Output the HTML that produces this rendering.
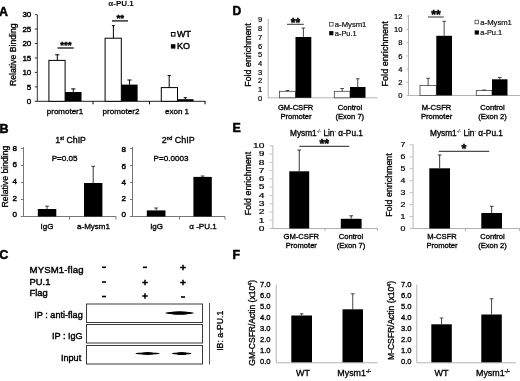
<!DOCTYPE html>
<html><head><meta charset="utf-8"><title>Figure</title>
<style>
html,body{margin:0;padding:0;background:#fff;}
svg{display:block;font-family:"Liberation Sans",Arial,sans-serif;filter:blur(0.4px);}
</style></head><body>
<svg width="520" height="381" viewBox="0 0 520 381">
<rect x="0" y="0" width="520" height="381" fill="#fff"/>
<text x="-0.9" y="15.8" font-size="12.4" text-anchor="start" font-weight="bold" fill="#000" stroke="#000" stroke-width="0.5">A</text>
<text x="121" y="6.3" font-size="8" text-anchor="middle" font-weight="bold" fill="#000" >α-PU.1</text>
<line x1="37.3" y1="15" x2="37.3" y2="101.8" stroke="#333" stroke-width="1"/>
<line x1="37.3" y1="101.3" x2="205.5" y2="101.3" stroke="#222" stroke-width="1"/>
<line x1="34.8" y1="101.3" x2="37.3" y2="101.3" stroke="#333" stroke-width="1"/>
<text x="31.3" y="104.14999999999999" font-size="8" text-anchor="end" font-weight="normal" fill="#000" stroke="#000" stroke-width="0.42">0</text>
<line x1="34.8" y1="86.85" x2="37.3" y2="86.85" stroke="#333" stroke-width="1"/>
<text x="31.3" y="89.69999999999999" font-size="8" text-anchor="end" font-weight="normal" fill="#000" stroke="#000" stroke-width="0.42">5</text>
<line x1="34.8" y1="72.4" x2="37.3" y2="72.4" stroke="#333" stroke-width="1"/>
<text x="31.3" y="75.25" font-size="8" text-anchor="end" font-weight="normal" fill="#000" stroke="#000" stroke-width="0.42">10</text>
<line x1="34.8" y1="57.95" x2="37.3" y2="57.95" stroke="#333" stroke-width="1"/>
<text x="31.3" y="60.800000000000004" font-size="8" text-anchor="end" font-weight="normal" fill="#000" stroke="#000" stroke-width="0.42">15</text>
<line x1="34.8" y1="43.5" x2="37.3" y2="43.5" stroke="#333" stroke-width="1"/>
<text x="31.3" y="46.35" font-size="8" text-anchor="end" font-weight="normal" fill="#000" stroke="#000" stroke-width="0.42">20</text>
<line x1="34.8" y1="29.049999999999997" x2="37.3" y2="29.049999999999997" stroke="#333" stroke-width="1"/>
<text x="31.3" y="31.9" font-size="8" text-anchor="end" font-weight="normal" fill="#000" stroke="#000" stroke-width="0.42">25</text>
<line x1="34.8" y1="14.600000000000009" x2="37.3" y2="14.600000000000009" stroke="#333" stroke-width="1"/>
<text x="31.3" y="17.45000000000001" font-size="8" text-anchor="end" font-weight="normal" fill="#000" stroke="#000" stroke-width="0.42">30</text>
<line x1="93" y1="101.3" x2="93" y2="104.3" stroke="#000" stroke-width="1"/>
<line x1="149.5" y1="101.3" x2="149.5" y2="104.3" stroke="#000" stroke-width="1"/>
<line x1="205" y1="101.3" x2="205" y2="104.3" stroke="#000" stroke-width="1"/>
<text transform="translate(15.7,54.7) rotate(-90)" font-size="8.7" text-anchor="middle" fill="#000" stroke="#000" stroke-width="0.32">Relative Binding</text>
<rect x="48.9" y="60.4" width="16.2" height="40.9" fill="#fff" stroke="#000" stroke-width="1"/>
<line x1="57.3" y1="54.8" x2="57.3" y2="60.4" stroke="#000" stroke-width="1"/>
<line x1="55.199999999999996" y1="54.8" x2="59.4" y2="54.8" stroke="#000" stroke-width="1"/>
<rect x="65.1" y="92" width="16.4" height="9.3" fill="#000" stroke="none" stroke-width="0"/>
<line x1="73.3" y1="88.9" x2="73.3" y2="92" stroke="#000" stroke-width="1"/>
<line x1="71.2" y1="88.9" x2="75.39999999999999" y2="88.9" stroke="#000" stroke-width="1"/>
<rect x="105.1" y="38.2" width="16.2" height="63.1" fill="#fff" stroke="#000" stroke-width="1"/>
<line x1="113.4" y1="25.7" x2="113.4" y2="38.2" stroke="#000" stroke-width="1"/>
<line x1="111.9" y1="25.7" x2="114.9" y2="25.7" stroke="#000" stroke-width="1"/>
<rect x="121.3" y="84.6" width="16.3" height="16.7" fill="#000" stroke="none" stroke-width="0"/>
<line x1="129.5" y1="80" x2="129.5" y2="84.6" stroke="#000" stroke-width="1"/>
<line x1="127.4" y1="80" x2="131.6" y2="80" stroke="#000" stroke-width="1"/>
<rect x="161.3" y="87.6" width="16.2" height="13.7" fill="#fff" stroke="#000" stroke-width="1"/>
<line x1="169.2" y1="75.5" x2="169.2" y2="87.6" stroke="#000" stroke-width="1"/>
<line x1="167.6" y1="75.5" x2="170.79999999999998" y2="75.5" stroke="#000" stroke-width="1"/>
<rect x="177.5" y="99.2" width="16.0" height="2.1" fill="#000" stroke="none" stroke-width="0"/>
<line x1="185.3" y1="97.7" x2="185.3" y2="99.2" stroke="#000" stroke-width="1"/>
<line x1="183.70000000000002" y1="97.7" x2="186.9" y2="97.7" stroke="#000" stroke-width="1"/>
<line x1="57.5" y1="48" x2="73.7" y2="48" stroke="#000" stroke-width="1.2"/>
<text x="65.9" y="48.0" font-size="9.8" text-anchor="middle" font-weight="bold" fill="#000" stroke="#000" stroke-width="0.45">***</text>
<line x1="112" y1="20.9" x2="128" y2="20.9" stroke="#000" stroke-width="1.2"/>
<text x="120.2" y="20.5" font-size="9.8" text-anchor="middle" font-weight="bold" fill="#000" stroke="#000" stroke-width="0.45">**</text>
<text x="65" y="114" font-size="8" text-anchor="middle" font-weight="normal" fill="#000" stroke="#000" stroke-width="0.32">promoter1</text>
<text x="121" y="114" font-size="8.1" text-anchor="middle" font-weight="normal" fill="#000" stroke="#000" stroke-width="0.32">promoter2</text>
<text x="177" y="114" font-size="8" text-anchor="middle" font-weight="normal" fill="#000" stroke="#000" stroke-width="0.32">exon 1</text>
<rect x="171.4" y="32.5" width="3.6" height="3.6" fill="#fff" stroke="#000" stroke-width="1"/>
<text x="177" y="36.5" font-size="9" text-anchor="start" font-weight="normal" fill="#000" stroke="#000" stroke-width="0.42">WT</text>
<rect x="170.9" y="44.2" width="4.5" height="4.4" fill="#000" stroke="none" stroke-width="0"/>
<text x="177" y="49" font-size="9" text-anchor="start" font-weight="normal" fill="#000" stroke="#000" stroke-width="0.42">KO</text>
<text x="-0.6" y="132.8" font-size="12.5" text-anchor="start" font-weight="bold" fill="#000" stroke="#000" stroke-width="0.5">B</text>
<text x="70.6" y="142.5" font-size="8.8" text-anchor="middle" stroke="#000" stroke-width="0.32">1<tspan dy="-3" font-size="5">st</tspan><tspan dy="3"> ChIP</tspan></text>
<text x="178.2" y="142.5" font-size="9" text-anchor="middle" stroke="#000" stroke-width="0.32">2<tspan dy="-3" font-size="5">nd</tspan><tspan dy="3"> ChIP</tspan></text>
<line x1="23.5" y1="147" x2="23.5" y2="217.0" stroke="#777" stroke-width="1"/>
<line x1="23.5" y1="216.5" x2="116" y2="216.5" stroke="#777" stroke-width="1"/>
<line x1="21.0" y1="216.5" x2="23.5" y2="216.5" stroke="#777" stroke-width="1"/>
<text x="16.9" y="217.3" font-size="8.1" text-anchor="end" font-weight="normal" fill="#000" stroke="#000" stroke-width="0.42">0</text>
<line x1="21.0" y1="199.5" x2="23.5" y2="199.5" stroke="#777" stroke-width="1"/>
<text x="16.9" y="200.65" font-size="8.1" text-anchor="end" font-weight="normal" fill="#000" stroke="#000" stroke-width="0.42">2</text>
<line x1="21.0" y1="182.5" x2="23.5" y2="182.5" stroke="#777" stroke-width="1"/>
<text x="16.9" y="184.0" font-size="8.1" text-anchor="end" font-weight="normal" fill="#000" stroke="#000" stroke-width="0.42">4</text>
<line x1="21.0" y1="165.5" x2="23.5" y2="165.5" stroke="#777" stroke-width="1"/>
<text x="16.9" y="167.35000000000002" font-size="8.1" text-anchor="end" font-weight="normal" fill="#000" stroke="#000" stroke-width="0.42">6</text>
<line x1="21.0" y1="148.5" x2="23.5" y2="148.5" stroke="#777" stroke-width="1"/>
<text x="16.9" y="150.70000000000002" font-size="8.1" text-anchor="end" font-weight="normal" fill="#000" stroke="#000" stroke-width="0.42">8</text>
<line x1="69.5" y1="216.5" x2="69.5" y2="219.5" stroke="#777" stroke-width="1"/>
<line x1="116" y1="216.5" x2="116" y2="219.5" stroke="#777" stroke-width="1"/>
<rect x="37.8" y="209" width="18.5" height="7.5" fill="#000" stroke="none" stroke-width="0"/>
<line x1="47.05" y1="206.2" x2="47.05" y2="209" stroke="#222" stroke-width="0.9"/>
<line x1="45.25" y1="206.2" x2="48.849999999999994" y2="206.2" stroke="#222" stroke-width="0.9"/>
<rect x="84" y="183" width="18.4" height="33.5" fill="#000" stroke="none" stroke-width="0"/>
<line x1="93.2" y1="166.3" x2="93.2" y2="183" stroke="#222" stroke-width="0.9"/>
<line x1="91.4" y1="166.3" x2="95.0" y2="166.3" stroke="#222" stroke-width="0.9"/>
<text x="47" y="229" font-size="8" text-anchor="middle" font-weight="normal" fill="#000" stroke="#000" stroke-width="0.32">IgG</text>
<text x="93.5" y="229" font-size="8" text-anchor="middle" font-weight="normal" fill="#000" stroke="#000" stroke-width="0.32">a-Mysm1</text>
<text x="64.6" y="161" font-size="8.1" text-anchor="middle" font-weight="normal" fill="#000" stroke="#000" stroke-width="0.32">P=0.05</text>
<line x1="132.5" y1="147" x2="132.5" y2="217.0" stroke="#777" stroke-width="1"/>
<line x1="132.5" y1="216.5" x2="225" y2="216.5" stroke="#777" stroke-width="1"/>
<line x1="130.0" y1="216.5" x2="132.5" y2="216.5" stroke="#777" stroke-width="1"/>
<text x="125.9" y="217.20000000000002" font-size="8.1" text-anchor="end" font-weight="normal" fill="#000" stroke="#000" stroke-width="0.42">0</text>
<line x1="130.0" y1="199.5" x2="132.5" y2="199.5" stroke="#777" stroke-width="1"/>
<text x="125.9" y="201.00000000000003" font-size="8.1" text-anchor="end" font-weight="normal" fill="#000" stroke="#000" stroke-width="0.42">2</text>
<line x1="130.0" y1="182.5" x2="132.5" y2="182.5" stroke="#777" stroke-width="1"/>
<text x="125.9" y="184.8" font-size="8.1" text-anchor="end" font-weight="normal" fill="#000" stroke="#000" stroke-width="0.42">4</text>
<line x1="130.0" y1="165.5" x2="132.5" y2="165.5" stroke="#777" stroke-width="1"/>
<text x="125.9" y="168.60000000000002" font-size="8.1" text-anchor="end" font-weight="normal" fill="#000" stroke="#000" stroke-width="0.42">6</text>
<line x1="130.0" y1="148.5" x2="132.5" y2="148.5" stroke="#777" stroke-width="1"/>
<text x="125.9" y="152.40000000000003" font-size="8.1" text-anchor="end" font-weight="normal" fill="#000" stroke="#000" stroke-width="0.42">8</text>
<line x1="179.5" y1="216.5" x2="179.5" y2="219.5" stroke="#777" stroke-width="1"/>
<line x1="225" y1="216.5" x2="225" y2="219.5" stroke="#777" stroke-width="1"/>
<rect x="146.8" y="210.4" width="18.7" height="6.1" fill="#000" stroke="none" stroke-width="0"/>
<line x1="156.15" y1="208" x2="156.15" y2="210.4" stroke="#222" stroke-width="0.9"/>
<line x1="154.35" y1="208" x2="157.95000000000002" y2="208" stroke="#222" stroke-width="0.9"/>
<rect x="193.4" y="176.9" width="18.4" height="39.6" fill="#000" stroke="none" stroke-width="0"/>
<line x1="202.60000000000002" y1="176" x2="202.60000000000002" y2="176.9" stroke="#222" stroke-width="0.9"/>
<line x1="200.8" y1="176" x2="204.40000000000003" y2="176" stroke="#222" stroke-width="0.9"/>
<text x="156.6" y="229" font-size="8" text-anchor="middle" font-weight="normal" fill="#000" stroke="#000" stroke-width="0.32">IgG</text>
<text x="203" y="229" font-size="8" text-anchor="middle" font-weight="normal" fill="#000" stroke="#000" stroke-width="0.32">α -PU.1</text>
<text x="171" y="161" font-size="8.1" text-anchor="middle" font-weight="normal" fill="#000" stroke="#000" stroke-width="0.32">P=0.0003</text>
<text transform="translate(7.7,207.4) rotate(-90)" font-size="8.7" text-anchor="start" fill="#000" stroke="#000" stroke-width="0.32">Relative binding</text>
<text x="-0.7" y="259.1" font-size="12.5" text-anchor="start" font-weight="bold" fill="#000" stroke="#000" stroke-width="0.5">C</text>
<text x="29.5" y="273.2" font-size="9.6" text-anchor="start" font-weight="normal" fill="#000" stroke="#000" stroke-width="0.42" textLength="54" lengthAdjust="spacing">MYSM1-flag</text>
<text x="29.5" y="284.8" font-size="9.4" text-anchor="start" font-weight="normal" fill="#000" stroke="#000" stroke-width="0.42">PU.1</text>
<text x="29.5" y="296" font-size="9.4" text-anchor="start" font-weight="normal" fill="#000" stroke="#000" stroke-width="0.42">Flag</text>
<line x1="102" y1="267.3" x2="106" y2="267.3" stroke="#000" stroke-width="1.6"/>
<line x1="102" y1="282" x2="106" y2="282" stroke="#000" stroke-width="1.6"/>
<line x1="102" y1="296.5" x2="106" y2="296.5" stroke="#000" stroke-width="1.6"/>
<line x1="143" y1="267.3" x2="147" y2="267.3" stroke="#000" stroke-width="1.6"/>
<line x1="142.2" y1="282.5" x2="147.8" y2="282.5" stroke="#000" stroke-width="1.5"/>
<line x1="145" y1="279.7" x2="145" y2="285.3" stroke="#000" stroke-width="1.5"/>
<line x1="142.2" y1="296" x2="147.8" y2="296" stroke="#000" stroke-width="1.5"/>
<line x1="145" y1="293.2" x2="145" y2="298.8" stroke="#000" stroke-width="1.5"/>
<line x1="180.2" y1="267.5" x2="185.8" y2="267.5" stroke="#000" stroke-width="1.5"/>
<line x1="183" y1="264.7" x2="183" y2="270.3" stroke="#000" stroke-width="1.5"/>
<line x1="180.2" y1="282.5" x2="185.8" y2="282.5" stroke="#000" stroke-width="1.5"/>
<line x1="183" y1="279.7" x2="183" y2="285.3" stroke="#000" stroke-width="1.5"/>
<line x1="181" y1="297" x2="185" y2="297" stroke="#000" stroke-width="1.6"/>
<rect x="86.5" y="304" width="116.0" height="18.5" fill="#fff" stroke="#3a3a3a" stroke-width="1"/>
<rect x="86.5" y="324.5" width="116.0" height="18.5" fill="#fff" stroke="#3a3a3a" stroke-width="1"/>
<rect x="86.5" y="345.5" width="116.0" height="18.5" fill="#fff" stroke="#3a3a3a" stroke-width="1"/>
<ellipse cx="179.6" cy="313" rx="14.2" ry="1.3" fill="#000"/>
<ellipse cx="179.6" cy="313" rx="10" ry="1.75" fill="#000"/>
<ellipse cx="147.5" cy="353.5" rx="12.2" ry="1.1" fill="#000"/>
<ellipse cx="147.5" cy="353.5" rx="6" ry="1.5" fill="#000"/>
<ellipse cx="181.7" cy="353.5" rx="9.8" ry="1.1" fill="#000"/>
<ellipse cx="181.7" cy="353.5" rx="5" ry="1.5" fill="#000"/>
<text x="82.7" y="318" font-size="9.1" text-anchor="end" font-weight="normal" fill="#000" stroke="#000" stroke-width="0.42">IP : anti-flag</text>
<text x="82.7" y="339" font-size="9.1" text-anchor="end" font-weight="normal" fill="#000" stroke="#000" stroke-width="0.42">IP : IgG</text>
<text x="81.2" y="361" font-size="9.1" text-anchor="end" font-weight="normal" fill="#000" stroke="#000" stroke-width="0.42">Input</text>
<line x1="209.5" y1="303" x2="209.5" y2="364.5" stroke="#555" stroke-width="1"/>
<text transform="translate(223.2,330.8) rotate(-90)" font-size="8.7" text-anchor="middle" fill="#000" stroke="#000" stroke-width="0.32">IB: a-PU.1</text>
<text x="232.5" y="15.1" font-size="12.1" text-anchor="start" font-weight="bold" fill="#000" stroke="#000" stroke-width="0.5">D</text>
<line x1="268.2" y1="18.700000000000003" x2="268.2" y2="98.3" stroke="#b4b4b4" stroke-width="1"/>
<line x1="268.2" y1="97.8" x2="377.5" y2="97.8" stroke="#b4b4b4" stroke-width="1"/>
<text x="262.2" y="100.75" font-size="7.6" text-anchor="end" font-weight="normal" fill="#000" stroke="#000" stroke-width="0.2">0</text>
<text x="262.2" y="92.05" font-size="7.6" text-anchor="end" font-weight="normal" fill="#000" stroke="#000" stroke-width="0.2">1</text>
<text x="262.2" y="83.35" font-size="7.6" text-anchor="end" font-weight="normal" fill="#000" stroke="#000" stroke-width="0.2">2</text>
<text x="262.2" y="74.65" font-size="7.6" text-anchor="end" font-weight="normal" fill="#000" stroke="#000" stroke-width="0.2">3</text>
<text x="262.2" y="65.95" font-size="7.6" text-anchor="end" font-weight="normal" fill="#000" stroke="#000" stroke-width="0.2">4</text>
<text x="262.2" y="57.25" font-size="7.6" text-anchor="end" font-weight="normal" fill="#000" stroke="#000" stroke-width="0.2">5</text>
<text x="262.2" y="48.550000000000004" font-size="7.6" text-anchor="end" font-weight="normal" fill="#000" stroke="#000" stroke-width="0.2">6</text>
<text x="262.2" y="39.85000000000001" font-size="7.6" text-anchor="end" font-weight="normal" fill="#000" stroke="#000" stroke-width="0.2">7</text>
<text x="262.2" y="31.150000000000006" font-size="7.6" text-anchor="end" font-weight="normal" fill="#000" stroke="#000" stroke-width="0.2">8</text>
<text x="262.2" y="22.450000000000003" font-size="7.6" text-anchor="end" font-weight="normal" fill="#000" stroke="#000" stroke-width="0.2">9</text>
<text transform="translate(250.6,55) rotate(-90)" font-size="8.86" text-anchor="middle" fill="#000" stroke="#000" stroke-width="0.32">Fold enrichment</text>
<rect x="279.5" y="91.3" width="16.0" height="6.5" fill="#fff" stroke="#444" stroke-width="0.8"/>
<line x1="287.5" y1="90.5" x2="287.5" y2="91.3" stroke="#333" stroke-width="0.9"/>
<line x1="285.7" y1="90.5" x2="289.3" y2="90.5" stroke="#333" stroke-width="0.9"/>
<rect x="295.5" y="37" width="15.8" height="60.8" fill="#000" stroke="none" stroke-width="0"/>
<line x1="303.4" y1="28" x2="303.4" y2="37" stroke="#333" stroke-width="0.9"/>
<line x1="301.59999999999997" y1="28" x2="305.2" y2="28" stroke="#333" stroke-width="0.9"/>
<rect x="334.3" y="91.3" width="15.7" height="6.5" fill="#fff" stroke="#444" stroke-width="0.8"/>
<line x1="342.15" y1="88.5" x2="342.15" y2="91.3" stroke="#333" stroke-width="0.9"/>
<line x1="340.34999999999997" y1="88.5" x2="343.95" y2="88.5" stroke="#333" stroke-width="0.9"/>
<rect x="350" y="87" width="15.5" height="10.8" fill="#000" stroke="none" stroke-width="0"/>
<line x1="357.75" y1="78.8" x2="357.75" y2="87" stroke="#333" stroke-width="0.9"/>
<line x1="355.95" y1="78.8" x2="359.55" y2="78.8" stroke="#333" stroke-width="0.9"/>
<text x="295.6" y="110.4" font-size="7.6" text-anchor="middle" font-weight="normal" fill="#000" stroke="#000" stroke-width="0.32">GM-CSFR</text>
<text x="296" y="118.9" font-size="7.6" text-anchor="middle" font-weight="normal" fill="#000" stroke="#000" stroke-width="0.32">Promoter</text>
<text x="350" y="110.4" font-size="7.6" text-anchor="middle" font-weight="normal" fill="#000" stroke="#000" stroke-width="0.32">Control</text>
<text x="349.8" y="118.9" font-size="7.6" text-anchor="middle" font-weight="normal" fill="#000" stroke="#000" stroke-width="0.32">(Exon 7)</text>
<line x1="287" y1="24.3" x2="303.8" y2="24.3" stroke="#333" stroke-width="1"/>
<text x="295.4" y="26.5" font-size="12" text-anchor="middle" font-weight="bold" fill="#000" stroke="#000" stroke-width="0.45">**</text>
<rect x="329.5" y="22.5" width="3.6" height="3.6" fill="#fff" stroke="#333" stroke-width="0.7"/>
<text x="334.8" y="26.8" font-size="7.3" text-anchor="start" font-weight="normal" fill="#111" stroke="#111" stroke-width="0.2" textLength="31.6" lengthAdjust="spacingAndGlyphs">a-Mysm1</text>
<rect x="329.2" y="31.1" width="4.2" height="4.2" fill="#000" stroke="none" stroke-width="0"/>
<text x="334.8" y="35.7" font-size="7.3" text-anchor="start" font-weight="normal" fill="#111" stroke="#111" stroke-width="0.2" textLength="21.8" lengthAdjust="spacingAndGlyphs">a-Pu.1</text>
<line x1="408.5" y1="15.099999999999994" x2="408.5" y2="96.0" stroke="#b4b4b4" stroke-width="1"/>
<line x1="408.5" y1="95.5" x2="520" y2="95.5" stroke="#b4b4b4" stroke-width="1"/>
<text x="402.5" y="98.35" font-size="7.6" text-anchor="end" font-weight="normal" fill="#000" stroke="#000" stroke-width="0.2">0</text>
<line x1="406.5" y1="95.6" x2="408.5" y2="95.6" stroke="#b4b4b4" stroke-width="1"/>
<text x="402.5" y="85.1" font-size="7.6" text-anchor="end" font-weight="normal" fill="#000" stroke="#000" stroke-width="0.2">2</text>
<line x1="406.5" y1="82.35" x2="408.5" y2="82.35" stroke="#b4b4b4" stroke-width="1"/>
<text x="402.5" y="71.85" font-size="7.6" text-anchor="end" font-weight="normal" fill="#000" stroke="#000" stroke-width="0.2">4</text>
<line x1="406.5" y1="69.1" x2="408.5" y2="69.1" stroke="#b4b4b4" stroke-width="1"/>
<text x="402.5" y="58.599999999999994" font-size="7.6" text-anchor="end" font-weight="normal" fill="#000" stroke="#000" stroke-width="0.2">6</text>
<line x1="406.5" y1="55.849999999999994" x2="408.5" y2="55.849999999999994" stroke="#b4b4b4" stroke-width="1"/>
<text x="402.5" y="45.349999999999994" font-size="7.6" text-anchor="end" font-weight="normal" fill="#000" stroke="#000" stroke-width="0.2">8</text>
<line x1="406.5" y1="42.599999999999994" x2="408.5" y2="42.599999999999994" stroke="#b4b4b4" stroke-width="1"/>
<text x="402.5" y="32.099999999999994" font-size="7.6" text-anchor="end" font-weight="normal" fill="#000" stroke="#000" stroke-width="0.2">10</text>
<line x1="406.5" y1="29.349999999999994" x2="408.5" y2="29.349999999999994" stroke="#b4b4b4" stroke-width="1"/>
<text x="402.5" y="18.849999999999994" font-size="7.6" text-anchor="end" font-weight="normal" fill="#000" stroke="#000" stroke-width="0.2">12</text>
<line x1="406.5" y1="16.099999999999994" x2="408.5" y2="16.099999999999994" stroke="#b4b4b4" stroke-width="1"/>
<text transform="translate(387.5,53.9) rotate(-90)" font-size="9.1" text-anchor="middle" fill="#000" stroke="#000" stroke-width="0.32">Fold enrichment</text>
<rect x="420" y="85.5" width="16.3" height="10.0" fill="#fff" stroke="#444" stroke-width="0.8"/>
<line x1="428.15" y1="78.3" x2="428.15" y2="85.5" stroke="#333" stroke-width="0.9"/>
<line x1="426.34999999999997" y1="78.3" x2="429.95" y2="78.3" stroke="#333" stroke-width="0.9"/>
<rect x="436.3" y="35.8" width="15.7" height="59.7" fill="#000" stroke="none" stroke-width="0"/>
<line x1="444.15" y1="21.3" x2="444.15" y2="35.8" stroke="#333" stroke-width="0.9"/>
<line x1="442.34999999999997" y1="21.3" x2="445.95" y2="21.3" stroke="#333" stroke-width="0.9"/>
<rect x="476.3" y="90.5" width="15.7" height="5.0" fill="#fff" stroke="#444" stroke-width="0.8"/>
<line x1="484.15" y1="90" x2="484.15" y2="90.5" stroke="#333" stroke-width="0.9"/>
<line x1="482.34999999999997" y1="90" x2="485.95" y2="90" stroke="#333" stroke-width="0.9"/>
<rect x="492" y="79.3" width="15.5" height="16.2" fill="#000" stroke="none" stroke-width="0"/>
<line x1="499.75" y1="77.5" x2="499.75" y2="79.3" stroke="#333" stroke-width="0.9"/>
<line x1="497.95" y1="77.5" x2="501.55" y2="77.5" stroke="#333" stroke-width="0.9"/>
<text x="436.5" y="110.4" font-size="7.6" text-anchor="middle" font-weight="normal" fill="#000" stroke="#000" stroke-width="0.32">M-CSFR</text>
<text x="436.6" y="118.9" font-size="7.6" text-anchor="middle" font-weight="normal" fill="#000" stroke="#000" stroke-width="0.32">Promoter</text>
<text x="492.5" y="110.4" font-size="7.6" text-anchor="middle" font-weight="normal" fill="#000" stroke="#000" stroke-width="0.32">Control</text>
<text x="492.5" y="118.9" font-size="7.6" text-anchor="middle" font-weight="normal" fill="#000" stroke="#000" stroke-width="0.32">(Exon 2)</text>
<line x1="428" y1="17" x2="443.8" y2="17" stroke="#333" stroke-width="1"/>
<text x="435.9" y="19.2" font-size="12" text-anchor="middle" font-weight="bold" fill="#000" stroke="#000" stroke-width="0.45">**</text>
<rect x="475" y="20.2" width="3.6" height="3.6" fill="#fff" stroke="#333" stroke-width="0.7"/>
<text x="480.3" y="24.5" font-size="7.3" text-anchor="start" font-weight="normal" fill="#111" stroke="#111" stroke-width="0.2" textLength="31.6" lengthAdjust="spacingAndGlyphs">a-Mysm1</text>
<rect x="474.7" y="30.4" width="4.2" height="4.2" fill="#000" stroke="none" stroke-width="0"/>
<text x="480.3" y="35.0" font-size="7.3" text-anchor="start" font-weight="normal" fill="#111" stroke="#111" stroke-width="0.2" textLength="21.8" lengthAdjust="spacingAndGlyphs">a-Pu.1</text>
<text x="232.6" y="132" font-size="12.4" text-anchor="start" font-weight="bold" fill="#000" stroke="#000" stroke-width="0.5">E</text>
<text x="290" y="136" font-size="8.3" text-anchor="start" stroke="#000" stroke-width="0.32">Mysm1<tspan dy="-3" font-size="4.6" stroke-width="0.1">-/-</tspan><tspan dy="3"> Lin</tspan><tspan dy="-3" font-size="4.6" stroke-width="0.1">-</tspan><tspan dy="3"> α-Pu.1</tspan></text>
<line x1="272.9" y1="145.3" x2="272.9" y2="229.0" stroke="#b8b8b8" stroke-width="1"/>
<line x1="272.9" y1="228.5" x2="377.5" y2="228.5" stroke="#b0b0b0" stroke-width="1"/>
<line x1="269.4" y1="228.5" x2="272.9" y2="228.5" stroke="#c4c4c4" stroke-width="1"/>
<text x="264.5" y="230.8" font-size="6.5" text-anchor="end" font-weight="normal" fill="#000" stroke="#000" stroke-width="0.18" textLength="5.7" lengthAdjust="spacingAndGlyphs">0</text>
<line x1="269.4" y1="220.23" x2="272.9" y2="220.23" stroke="#c4c4c4" stroke-width="1"/>
<text x="264.5" y="222.53" font-size="6.5" text-anchor="end" font-weight="normal" fill="#000" stroke="#000" stroke-width="0.18" textLength="5.7" lengthAdjust="spacingAndGlyphs">1</text>
<line x1="269.4" y1="211.96" x2="272.9" y2="211.96" stroke="#c4c4c4" stroke-width="1"/>
<text x="264.5" y="214.26000000000002" font-size="6.5" text-anchor="end" font-weight="normal" fill="#000" stroke="#000" stroke-width="0.18" textLength="5.7" lengthAdjust="spacingAndGlyphs">2</text>
<line x1="269.4" y1="203.69" x2="272.9" y2="203.69" stroke="#c4c4c4" stroke-width="1"/>
<text x="264.5" y="205.99" font-size="6.5" text-anchor="end" font-weight="normal" fill="#000" stroke="#000" stroke-width="0.18" textLength="5.7" lengthAdjust="spacingAndGlyphs">3</text>
<line x1="269.4" y1="195.42000000000002" x2="272.9" y2="195.42000000000002" stroke="#c4c4c4" stroke-width="1"/>
<text x="264.5" y="197.72000000000003" font-size="6.5" text-anchor="end" font-weight="normal" fill="#000" stroke="#000" stroke-width="0.18" textLength="5.7" lengthAdjust="spacingAndGlyphs">4</text>
<line x1="269.4" y1="187.15" x2="272.9" y2="187.15" stroke="#c4c4c4" stroke-width="1"/>
<text x="264.5" y="189.45000000000002" font-size="6.5" text-anchor="end" font-weight="normal" fill="#000" stroke="#000" stroke-width="0.18" textLength="5.7" lengthAdjust="spacingAndGlyphs">5</text>
<line x1="269.4" y1="178.88" x2="272.9" y2="178.88" stroke="#c4c4c4" stroke-width="1"/>
<text x="264.5" y="181.18" font-size="6.5" text-anchor="end" font-weight="normal" fill="#000" stroke="#000" stroke-width="0.18" textLength="5.7" lengthAdjust="spacingAndGlyphs">6</text>
<line x1="269.4" y1="170.61" x2="272.9" y2="170.61" stroke="#c4c4c4" stroke-width="1"/>
<text x="264.5" y="172.91000000000003" font-size="6.5" text-anchor="end" font-weight="normal" fill="#000" stroke="#000" stroke-width="0.18" textLength="5.7" lengthAdjust="spacingAndGlyphs">7</text>
<line x1="269.4" y1="162.34" x2="272.9" y2="162.34" stroke="#c4c4c4" stroke-width="1"/>
<text x="264.5" y="164.64000000000001" font-size="6.5" text-anchor="end" font-weight="normal" fill="#000" stroke="#000" stroke-width="0.18" textLength="5.7" lengthAdjust="spacingAndGlyphs">8</text>
<line x1="269.4" y1="154.07" x2="272.9" y2="154.07" stroke="#c4c4c4" stroke-width="1"/>
<text x="264.5" y="156.37" font-size="6.5" text-anchor="end" font-weight="normal" fill="#000" stroke="#000" stroke-width="0.18" textLength="5.7" lengthAdjust="spacingAndGlyphs">9</text>
<line x1="269.4" y1="145.8" x2="272.9" y2="145.8" stroke="#c4c4c4" stroke-width="1"/>
<text x="264.5" y="148.10000000000002" font-size="6.5" text-anchor="end" font-weight="normal" fill="#000" stroke="#000" stroke-width="0.18" textLength="11.4" lengthAdjust="spacingAndGlyphs">10</text>
<line x1="325" y1="228.5" x2="325" y2="231.0" stroke="#b4b4b4" stroke-width="1"/>
<line x1="377.5" y1="228.5" x2="377.5" y2="231.0" stroke="#b4b4b4" stroke-width="1"/>
<text transform="translate(251.2,183.5) rotate(-90)" font-size="8.86" text-anchor="middle" fill="#000" stroke="#000" stroke-width="0.32">Fold enrichment</text>
<rect x="289.3" y="171.3" width="19.9" height="57.2" fill="#000" stroke="none" stroke-width="0"/>
<line x1="299.25" y1="150" x2="299.25" y2="171.3" stroke="#222" stroke-width="0.9"/>
<line x1="297.45" y1="150" x2="301.05" y2="150" stroke="#222" stroke-width="0.9"/>
<rect x="340.8" y="218.8" width="20.8" height="9.7" fill="#000" stroke="none" stroke-width="0"/>
<line x1="351.20000000000005" y1="215.8" x2="351.20000000000005" y2="218.8" stroke="#222" stroke-width="0.9"/>
<line x1="349.40000000000003" y1="215.8" x2="353.00000000000006" y2="215.8" stroke="#222" stroke-width="0.9"/>
<text x="301.3" y="239.2" font-size="7.6" text-anchor="middle" font-weight="normal" fill="#000" stroke="#000" stroke-width="0.32">GM-CSFR</text>
<text x="301.3" y="248.2" font-size="7.6" text-anchor="middle" font-weight="normal" fill="#000" stroke="#000" stroke-width="0.32">Promoter</text>
<text x="351" y="239.2" font-size="7.6" text-anchor="middle" font-weight="normal" fill="#000" stroke="#000" stroke-width="0.32">Control</text>
<text x="351" y="248.2" font-size="7.6" text-anchor="middle" font-weight="normal" fill="#000" stroke="#000" stroke-width="0.32">(Exon 7)</text>
<line x1="299.3" y1="146.3" x2="349.3" y2="146.3" stroke="#222" stroke-width="1"/>
<text x="324.3" y="148.4" font-size="12.5" text-anchor="middle" font-weight="bold" fill="#000" stroke="#000" stroke-width="0.45">**</text>
<text x="430" y="136" font-size="8.3" text-anchor="start" stroke="#000" stroke-width="0.32">Mysm1<tspan dy="-3" font-size="4.6" stroke-width="0.1">-/-</tspan><tspan dy="3"> Lin</tspan><tspan dy="-3" font-size="4.6" stroke-width="0.1">-</tspan><tspan dy="3"> α-Pu.1</tspan></text>
<line x1="413.1" y1="144.35000000000002" x2="413.1" y2="229.0" stroke="#b8b8b8" stroke-width="1"/>
<line x1="413.1" y1="228.5" x2="520" y2="228.5" stroke="#b0b0b0" stroke-width="1"/>
<line x1="409.6" y1="228.5" x2="413.1" y2="228.5" stroke="#c4c4c4" stroke-width="1"/>
<text x="405.4" y="230.8" font-size="6.5" text-anchor="end" font-weight="normal" fill="#000" stroke="#000" stroke-width="0.18" textLength="4.9" lengthAdjust="spacingAndGlyphs">0</text>
<line x1="409.6" y1="216.55" x2="413.1" y2="216.55" stroke="#c4c4c4" stroke-width="1"/>
<text x="405.4" y="218.85000000000002" font-size="6.5" text-anchor="end" font-weight="normal" fill="#000" stroke="#000" stroke-width="0.18" textLength="4.9" lengthAdjust="spacingAndGlyphs">1</text>
<line x1="409.6" y1="204.6" x2="413.1" y2="204.6" stroke="#c4c4c4" stroke-width="1"/>
<text x="405.4" y="206.9" font-size="6.5" text-anchor="end" font-weight="normal" fill="#000" stroke="#000" stroke-width="0.18" textLength="4.9" lengthAdjust="spacingAndGlyphs">2</text>
<line x1="409.6" y1="192.65" x2="413.1" y2="192.65" stroke="#c4c4c4" stroke-width="1"/>
<text x="405.4" y="194.95000000000002" font-size="6.5" text-anchor="end" font-weight="normal" fill="#000" stroke="#000" stroke-width="0.18" textLength="4.9" lengthAdjust="spacingAndGlyphs">3</text>
<line x1="409.6" y1="180.7" x2="413.1" y2="180.7" stroke="#c4c4c4" stroke-width="1"/>
<text x="405.4" y="183.0" font-size="6.5" text-anchor="end" font-weight="normal" fill="#000" stroke="#000" stroke-width="0.18" textLength="4.9" lengthAdjust="spacingAndGlyphs">4</text>
<line x1="409.6" y1="168.75" x2="413.1" y2="168.75" stroke="#c4c4c4" stroke-width="1"/>
<text x="405.4" y="171.05" font-size="6.5" text-anchor="end" font-weight="normal" fill="#000" stroke="#000" stroke-width="0.18" textLength="4.9" lengthAdjust="spacingAndGlyphs">5</text>
<line x1="409.6" y1="156.8" x2="413.1" y2="156.8" stroke="#c4c4c4" stroke-width="1"/>
<text x="405.4" y="159.10000000000002" font-size="6.5" text-anchor="end" font-weight="normal" fill="#000" stroke="#000" stroke-width="0.18" textLength="4.9" lengthAdjust="spacingAndGlyphs">6</text>
<line x1="409.6" y1="144.85000000000002" x2="413.1" y2="144.85000000000002" stroke="#c4c4c4" stroke-width="1"/>
<text x="405.4" y="147.15000000000003" font-size="6.5" text-anchor="end" font-weight="normal" fill="#000" stroke="#000" stroke-width="0.18" textLength="4.9" lengthAdjust="spacingAndGlyphs">7</text>
<line x1="465.5" y1="228.5" x2="465.5" y2="231.0" stroke="#b4b4b4" stroke-width="1"/>
<line x1="519.5" y1="228.5" x2="519.5" y2="231.0" stroke="#b4b4b4" stroke-width="1"/>
<text transform="translate(392.3,185) rotate(-90)" font-size="8.86" text-anchor="middle" fill="#000" stroke="#000" stroke-width="0.32">Fold enrichment</text>
<rect x="429.3" y="168.3" width="20.7" height="60.2" fill="#000" stroke="none" stroke-width="0"/>
<line x1="439.65" y1="155" x2="439.65" y2="168.3" stroke="#222" stroke-width="0.9"/>
<line x1="437.84999999999997" y1="155" x2="441.45" y2="155" stroke="#222" stroke-width="0.9"/>
<rect x="481.3" y="213" width="20.7" height="15.5" fill="#000" stroke="none" stroke-width="0"/>
<line x1="491.65" y1="206.3" x2="491.65" y2="213" stroke="#222" stroke-width="0.9"/>
<line x1="489.84999999999997" y1="206.3" x2="493.45" y2="206.3" stroke="#222" stroke-width="0.9"/>
<text x="442" y="239.2" font-size="7.6" text-anchor="middle" font-weight="normal" fill="#000" stroke="#000" stroke-width="0.32">M-CSFR</text>
<text x="442" y="248.2" font-size="7.6" text-anchor="middle" font-weight="normal" fill="#000" stroke="#000" stroke-width="0.32">Promoter</text>
<text x="492.5" y="239.2" font-size="7.6" text-anchor="middle" font-weight="normal" fill="#000" stroke="#000" stroke-width="0.32">Control</text>
<text x="492.5" y="248.2" font-size="7.6" text-anchor="middle" font-weight="normal" fill="#000" stroke="#000" stroke-width="0.32">(Exon 2)</text>
<line x1="438.8" y1="151.3" x2="489.3" y2="151.3" stroke="#222" stroke-width="1"/>
<text x="464.05" y="153.4" font-size="12.5" text-anchor="middle" font-weight="bold" fill="#000" stroke="#000" stroke-width="0.45">*</text>
<text x="232.6" y="259" font-size="12.4" text-anchor="start" font-weight="bold" fill="#000" stroke="#000" stroke-width="0.5">F</text>
<line x1="276.2" y1="284.65000000000003" x2="276.2" y2="362.8" stroke="#b4b4b4" stroke-width="1"/>
<line x1="276.2" y1="362.8" x2="377.5" y2="362.8" stroke="#b4b4b4" stroke-width="1"/>
<text x="270.5" y="364.1" font-size="7.6" text-anchor="end" font-weight="normal" fill="#000" stroke="#000" stroke-width="0.32">0.0</text>
<text x="270.5" y="353.15000000000003" font-size="7.6" text-anchor="end" font-weight="normal" fill="#000" stroke="#000" stroke-width="0.32">1.0</text>
<text x="270.5" y="342.20000000000005" font-size="7.6" text-anchor="end" font-weight="normal" fill="#000" stroke="#000" stroke-width="0.32">2.0</text>
<text x="270.5" y="331.25000000000006" font-size="7.6" text-anchor="end" font-weight="normal" fill="#000" stroke="#000" stroke-width="0.32">3.0</text>
<text x="270.5" y="320.3" font-size="7.6" text-anchor="end" font-weight="normal" fill="#000" stroke="#000" stroke-width="0.32">4.0</text>
<text x="270.5" y="309.35" font-size="7.6" text-anchor="end" font-weight="normal" fill="#000" stroke="#000" stroke-width="0.32">5.0</text>
<text x="270.5" y="298.40000000000003" font-size="7.6" text-anchor="end" font-weight="normal" fill="#000" stroke="#000" stroke-width="0.32">6.0</text>
<text x="270.5" y="287.45000000000005" font-size="7.6" text-anchor="end" font-weight="normal" fill="#000" stroke="#000" stroke-width="0.32">7.0</text>
<text transform="translate(254.6,365.7) rotate(-90)" font-size="8.5" text-anchor="start" stroke="#000" stroke-width="0.32">GM-CSFR/Actin (x10<tspan dy="-2.8" font-size="5.5">4</tspan><tspan dy="2.8">)</tspan></text>
<rect x="291.3" y="315.5" width="20.7" height="46.8" fill="#000" stroke="none" stroke-width="0"/>
<line x1="301.65" y1="313.8" x2="301.65" y2="315.5" stroke="#333" stroke-width="0.9"/>
<line x1="299.84999999999997" y1="313.8" x2="303.45" y2="313.8" stroke="#333" stroke-width="0.9"/>
<rect x="342.5" y="309.3" width="20.5" height="53.0" fill="#000" stroke="none" stroke-width="0"/>
<line x1="352.75" y1="293.8" x2="352.75" y2="309.3" stroke="#333" stroke-width="0.9"/>
<line x1="350.95" y1="293.8" x2="354.55" y2="293.8" stroke="#333" stroke-width="0.9"/>
<text x="303" y="375.8" font-size="9" text-anchor="middle" font-weight="normal" fill="#000" stroke="#000" stroke-width="0.32">WT</text>
<text x="337.3" y="375.8" font-size="8.9" text-anchor="start" stroke="#000" stroke-width="0.32">Mysm1<tspan dy="-3" font-size="5.5">-/-</tspan></text>
<line x1="416.8" y1="284.65000000000003" x2="416.8" y2="362.8" stroke="#b4b4b4" stroke-width="1"/>
<line x1="416.8" y1="362.8" x2="516" y2="362.8" stroke="#b4b4b4" stroke-width="1"/>
<text x="411.5" y="364.1" font-size="7.6" text-anchor="end" font-weight="normal" fill="#000" stroke="#000" stroke-width="0.32">0.0</text>
<text x="411.5" y="353.15000000000003" font-size="7.6" text-anchor="end" font-weight="normal" fill="#000" stroke="#000" stroke-width="0.32">1.0</text>
<text x="411.5" y="342.20000000000005" font-size="7.6" text-anchor="end" font-weight="normal" fill="#000" stroke="#000" stroke-width="0.32">2.0</text>
<text x="411.5" y="331.25000000000006" font-size="7.6" text-anchor="end" font-weight="normal" fill="#000" stroke="#000" stroke-width="0.32">3.0</text>
<text x="411.5" y="320.3" font-size="7.6" text-anchor="end" font-weight="normal" fill="#000" stroke="#000" stroke-width="0.32">4.0</text>
<text x="411.5" y="309.35" font-size="7.6" text-anchor="end" font-weight="normal" fill="#000" stroke="#000" stroke-width="0.32">5.0</text>
<text x="411.5" y="298.40000000000003" font-size="7.6" text-anchor="end" font-weight="normal" fill="#000" stroke="#000" stroke-width="0.32">6.0</text>
<text x="411.5" y="287.45000000000005" font-size="7.6" text-anchor="end" font-weight="normal" fill="#000" stroke="#000" stroke-width="0.32">7.0</text>
<text transform="translate(393.6,360) rotate(-90)" font-size="8.5" text-anchor="start" stroke="#000" stroke-width="0.32">M-CSFR/Actin (x10<tspan dy="-2.8" font-size="5.5">4</tspan><tspan dy="2.8">)</tspan></text>
<rect x="431.3" y="324.3" width="20.5" height="38.0" fill="#000" stroke="none" stroke-width="0"/>
<line x1="441.55" y1="318" x2="441.55" y2="324.3" stroke="#333" stroke-width="0.9"/>
<line x1="439.75" y1="318" x2="443.35" y2="318" stroke="#333" stroke-width="0.9"/>
<rect x="481.3" y="314.5" width="20.5" height="47.8" fill="#000" stroke="none" stroke-width="0"/>
<line x1="491.55" y1="298.8" x2="491.55" y2="314.5" stroke="#333" stroke-width="0.9"/>
<line x1="489.75" y1="298.8" x2="493.35" y2="298.8" stroke="#333" stroke-width="0.9"/>
<text x="441.4" y="375.8" font-size="9" text-anchor="middle" font-weight="normal" fill="#000" stroke="#000" stroke-width="0.32">WT</text>
<text x="476" y="375.8" font-size="8.9" text-anchor="start" stroke="#000" stroke-width="0.32">Mysm1<tspan dy="-3" font-size="5.5">-/-</tspan></text>
</svg>
</body></html>
